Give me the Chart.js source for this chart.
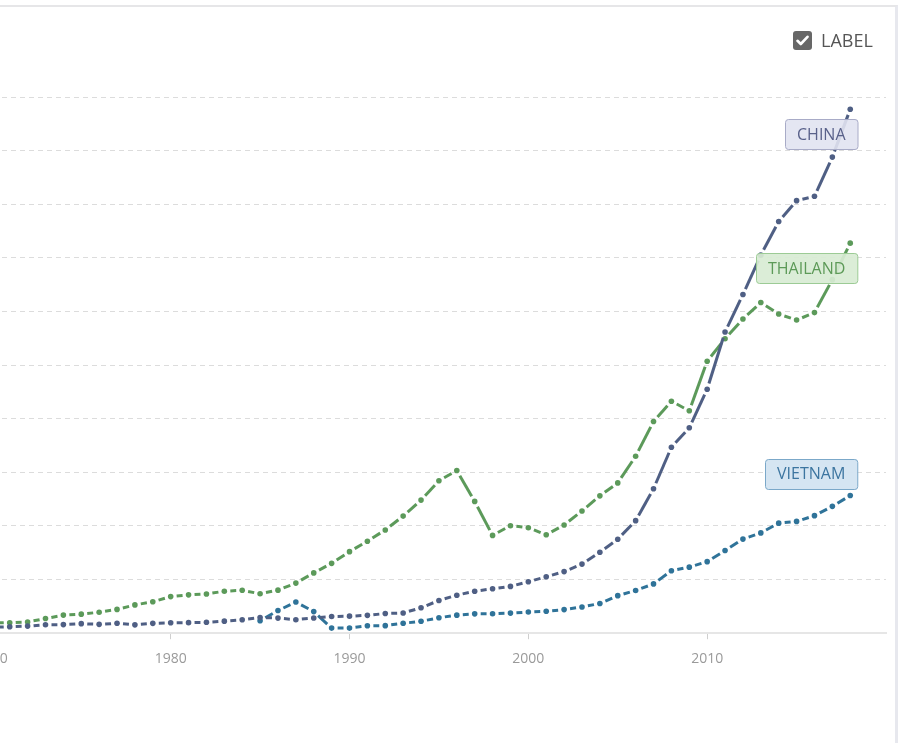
<!DOCTYPE html>
<html>
<head>
<meta charset="utf-8">
<script src="https://cdn.jsdelivr.net/npm/chart.js@4.4.1/dist/chart.umd.min.js"></script>
<style>
	html, body { margin: 0; padding: 0; background: #fff; overflow: hidden; }
	body { width: 901px; height: 743px; position: relative; font-family: "Open Sans", sans-serif; }
	#frame { position: absolute; left: 0; top: 5px; width: 895px; height: 760px; border-top: 2px solid #e6e6e8; border-right: 3px solid #e7e8ee; }
	#chartcanvas { position: absolute; left: -214px; top: 0; }
	#labeltoggle { position: absolute; left: 793px; top: 30px; height: 20px; display: flex; align-items: center; color: #555; font-size: 18px; }
	#labeltoggle .box { width: 19px; height: 19px; border-radius: 3px; background: #676767; margin-right: 9px; display: flex; align-items: center; justify-content: center; }
</style>
</head>
<body>
<div id="frame"></div>
<canvas id="chartcanvas" width="1114" height="743"></canvas>
<div id="labeltoggle"><span class="box"><svg width="13" height="11" viewBox="0 0 13 11"><path d="M1.5 5.8 L4.8 9 L11.5 1.8" stroke="#fff" stroke-width="2.6" fill="none" stroke-linecap="round" stroke-linejoin="round"/></svg></span>LABEL</div>
<script>
var years = [1960,1961,1962,1963,1964,1965,1966,1967,1968,1969,
	1970,1971,1972,1973,1974,1975,1976,1977,1978,1979,
	1980,1981,1982,1983,1984,1985,1986,1987,1988,1989,
	1990,1991,1992,1993,1994,1995,1996,1997,1998,1999,
	2000,2001,2002,2003,2004,2005,2006,2007,2008,2009,
	2010,2011,2012,2013,2014,2015,2016,2017,2018];

var china = [90,76,71,74,86,99,104,97,92,100,
	113,119,132,157,160,178,165,185,156,184,
	195,197,203,225,251,294,282,252,284,311,
	318,333,367,377,474,610,709,782,829,873,
	959,1053,1149,1289,1509,1753,2099,2694,3468,3832,
	4550,5618,6317,7051,7679,8067,8148,8879,9771];

var thailand = [101,106,111,115,122,133,156,165,174,186,
	192,195,210,273,338,355,391,444,528,586,
	683,715,732,783,800,735,803,934,1125,1303,
	1521,1715,1926,2184,2482,2842,3034,2458,1824,2005,
	1968,1836,2019,2280,2562,2803,3300,3947,4327,4148,
	5073,5492,5861,6168,5952,5840,5979,6594,7274];

var vietnam = [null,null,null,null,null,null,null,null,null,null,
	null,null,null,null,null,null,null,null,null,null,
	null,null,null,null,null,232,422,581,403,95,
	95,138,141,185,222,288,337,361,362,375,
	395,410,440,489,554,700,797,919,1165,1232,
	1334,1543,1755,1871,2052,2085,2192,2366,2567];

var names = ["CHINA", "THAILAND", "VIETNAM"];
var yTicks = [0,1000,2000,3000,4000,5000,6000,7000,8000,9000,10000];
var xTicks = [1960,1970,1980,1990,2000,2010];

function toPoints(vals) {
	var pts = [];
	for (var i in years) {
		pts.push({x: years[i], y: vals[i]});
	}
	return pts;
}

// one dash in the middle of every segment, gaps round the dots
function segDash(c) {
	var dx = c.p1.x - c.p0.x, dy = c.p1.y - c.p0.y;
	var len = Math.sqrt(dx * dx + dy * dy);
	var g = 6;
	if (!isFinite(len)) return [];
	if (len < 2 * g + 2) return [0, len];
	return [0, g, len - 2 * g, g];
}

function makeSet(label, vals, color, box) {
	return {
		label: label,
		data: toPoints(vals),
		borderColor: color,
		backgroundColor: color,
		borderWidth: 3,
		fill: false,
		tension: 0,
		spanGaps: false,
		pointRadius: 2.8,
		pointBorderWidth: 0,
		pointBackgroundColor: color,
		segment: { borderDash: segDash },
		box: box
	};
}

var boxLabels = {
	id: 'boxLabels',
	afterDatasetsDraw: function(chart) {
		var ctx = chart.ctx;
		chart.data.datasets.forEach(function(ds, i) {
			var meta = chart.getDatasetMeta(i);
			var last = meta.data[meta.data.length - 1];
			var b = ds.box;
			ctx.save();
			ctx.font = '16px "Open Sans", sans-serif';
			var w = ctx.measureText(ds.label).width + 24;
			var h = 30;
			var right = last.x + 7;
			var cy = b.below ? last.y + 25 : last.y - 22;
			var x = Math.round(right - w), y = Math.round(cy - h / 2);
			ctx.beginPath();
			ctx.roundRect(x + 0.5, y + 0.5, w, h, 3);
			ctx.fillStyle = b.bg;
			ctx.fill();
			ctx.lineWidth = 1;
			ctx.strokeStyle = b.border;
			ctx.stroke();
			ctx.fillStyle = b.text;
			ctx.textAlign = 'center';
			ctx.textBaseline = 'middle';
			ctx.fillText(ds.label, x + w / 2, cy + 1);
			ctx.restore();
		});
	}
};

var chartdata = {
	datasets: [
		makeSet(names[0], china, "#4f5f84", {below: true, bg: "rgba(225,227,241,0.9)", border: "#a8abc7", text: "#59618a"}),
		makeSet(names[1], thailand, "#5c9a5a", {below: true, bg: "rgba(216,236,212,0.92)", border: "#9ccb95", text: "#5d9a58"}),
		makeSet(names[2], vietnam, "#2f7399", {below: false, bg: "rgba(211,228,241,0.95)", border: "#7ba8c9", text: "#3c75a0"})
	]
};

var ctx = document.getElementById("chartcanvas");

var LineGraph = new Chart(ctx, {
	type: 'line',
	data: chartdata,
	plugins: [boxLabels],
	options: {
		responsive: false,
		animation: false,
		layout: { padding: { left: 19, right: 14, top: 97, bottom: 65 } },
		plugins: {
			legend: { display: false },
			tooltip: { enabled: false }
		},
		scales: {
			x: {
				type: 'linear',
				min: 1960,
				max: 2020,
				afterBuildTicks: function(scale) {
					scale.ticks = xTicks.map(function(v) { return {value: v}; });
				},
				ticks: {
					color: '#9a9a9a',
					font: { family: '"Open Sans", sans-serif', size: 14 },
					padding: 11,
					maxRotation: 0,
					autoSkip: false,
					callback: function(v) { return String(v); }
				},
				grid: { drawOnChartArea: false, drawTicks: true, tickLength: 6, color: '#cfcfcf' },
				border: { display: true, color: '#e6e6e6', width: 2 }
			},
			y: {
				min: 0,
				max: 10000,
				afterBuildTicks: function(scale) {
					scale.ticks = yTicks.map(function(v) { return {value: v}; });
				},
				ticks: { display: false },
				grid: { color: '#dcdcdc', drawTicks: false, lineWidth: 1 },
				border: { display: false, dash: [5, 4] }
			}
		}
	}
});
</script>
</body>
</html>
